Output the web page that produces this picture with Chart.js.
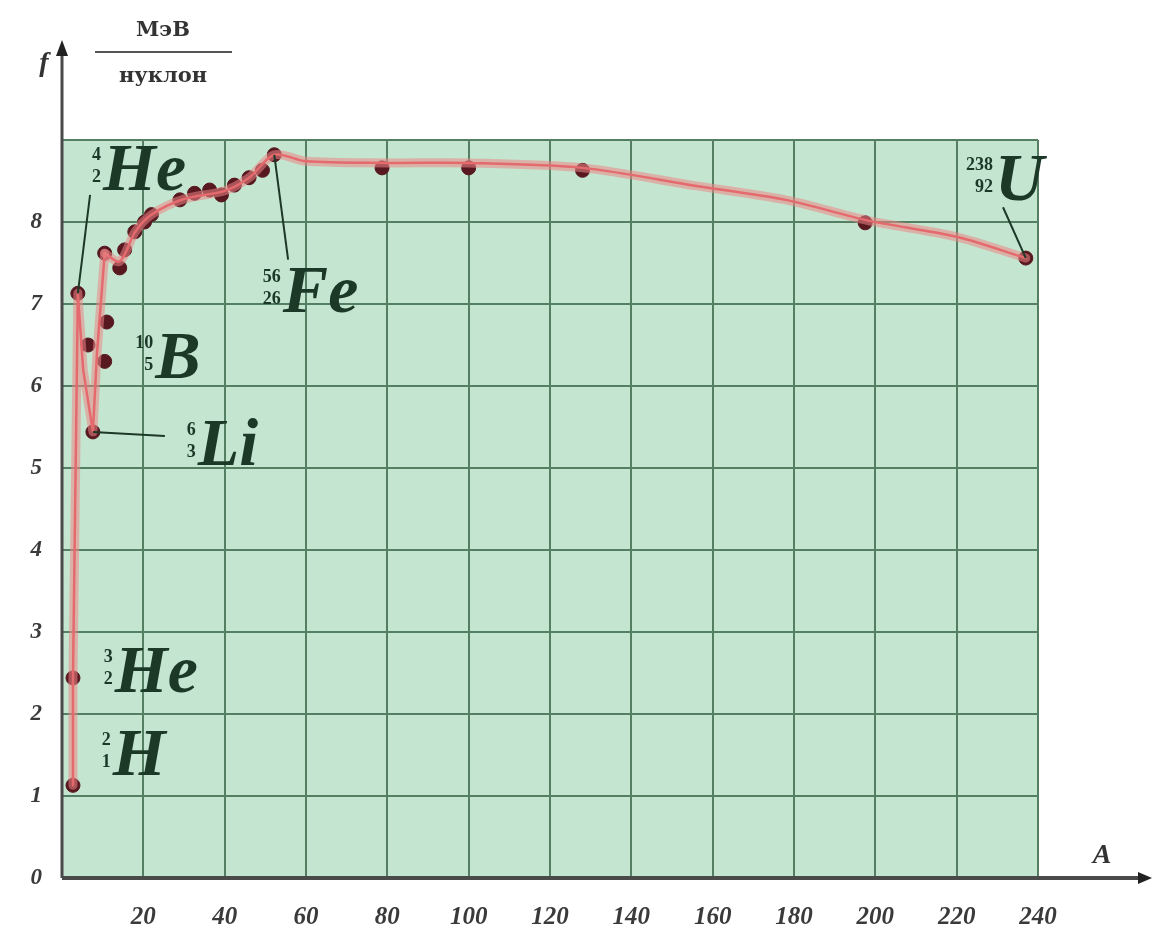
<!DOCTYPE html>
<html>
<head>
<meta charset="utf-8">
<script src="https://cdn.jsdelivr.net/npm/chart.js@4.4.1/dist/chart.umd.min.js"></script>
<style>
  html, body { margin: 0; padding: 0; background: #fff; }
  #chart { display: block; filter: blur(0.7px); }
</style>
</head>
<body>
<canvas id="chart" width="1152" height="936"></canvas>
<script>
// Mass number A and binding energy per nucleon f (MeV) of the marked nuclei
const pointA = [2.7, 2.7, 3.9, 7.6, 6.4, 10.5, 11, 10.5, 14.2, 15.4, 17.9, 20.3, 22, 29, 32.6, 36.3, 39.2, 42.4, 46, 49.3, 52.2, 78.7, 100, 128, 197.5, 237];
const pointF = [1.13, 2.44, 7.13, 5.44, 6.5, 6.3, 6.78, 7.62, 7.44, 7.66, 7.88, 8.0, 8.09, 8.27, 8.35, 8.39, 8.33, 8.45, 8.54, 8.63, 8.82, 8.66, 8.66, 8.63, 7.99, 7.56];

// The red curve: light nuclei part (straight segments) ...
const lightA = [2.7, 2.7, 3.9, 5.2, 7.6, 8.6, 10.5];
const lightF = [1.13, 2.44, 7.13, 6.2, 5.44, 6.4, 7.62];
// ... and the smooth part from A ~ 10 to uranium
const heavyA = [10.5, 14.2, 18, 22, 30, 40, 46, 52.2, 60, 80, 100, 128, 156, 178, 198, 220, 237];
const heavyF = [7.62, 7.52, 7.88, 8.09, 8.28, 8.38, 8.54, 8.82, 8.74, 8.72, 8.72, 8.66, 8.44, 8.27, 8.02, 7.82, 7.56];

const xTicks = [20, 40, 60, 80, 100, 120, 140, 160, 180, 200, 220, 240];
const yTicks = [0, 1, 2, 3, 4, 5, 6, 7, 8];

const toXY = (xs, ys) => xs.map((x, i) => ({ x: x, y: ys[i] }));

const GREEN_BG = '#c4e5cf';
const GRID = '#557f62';
const INK = '#1c3827';
const AXIS = '#4a4a4a';
const HALO = 'rgba(236, 135, 135, 0.55)';
const RED = '#d9474f';

const decorPlugin = {
    id: 'decor',
    beforeDraw(chart) {
        const { ctx, chartArea: a } = chart;
        ctx.save();
        ctx.fillStyle = '#ffffff';
        ctx.fillRect(0, 0, chart.width, chart.height);
        ctx.fillStyle = GREEN_BG;
        ctx.fillRect(a.left, a.top, a.right - a.left, a.bottom - a.top);
        ctx.restore();
    },
    afterDraw(chart) {
        const { ctx, chartArea: a } = chart;
        const xs = chart.scales.x, ys = chart.scales.y;
        const px = v => xs.getPixelForValue(v);
        const py = v => ys.getPixelForValue(v);
        ctx.save();

        // axes with arrows
        ctx.strokeStyle = AXIS;
        ctx.fillStyle = '#222';
        ctx.lineWidth = 4;
        ctx.beginPath();
        ctx.moveTo(a.left, a.bottom);
        ctx.lineTo(1142, a.bottom);
        ctx.stroke();
        ctx.beginPath();
        ctx.moveTo(1152, a.bottom);
        ctx.lineTo(1138, a.bottom - 6);
        ctx.lineTo(1138, a.bottom + 6);
        ctx.closePath();
        ctx.fill();

        ctx.lineWidth = 3;
        ctx.beginPath();
        ctx.moveTo(a.left, a.bottom);
        ctx.lineTo(a.left, 52);
        ctx.stroke();
        ctx.beginPath();
        ctx.moveTo(a.left, 40);
        ctx.lineTo(a.left - 6, 56);
        ctx.lineTo(a.left + 6, 56);
        ctx.closePath();
        ctx.fill();

        // axis titles
        ctx.fillStyle = '#333';
        ctx.textAlign = 'center';
        ctx.textBaseline = 'middle';
        ctx.font = 'italic bold 28px "Liberation Serif"';
        ctx.fillText('f', 44, 64);
        ctx.fillText('A', 1102, 856);
        ctx.font = 'bold 21px "DejaVu Serif"';
        ctx.fillText('МэВ', 163, 31);
        ctx.fillText('нуклон', 163, 77);
        ctx.lineWidth = 2;
        ctx.strokeStyle = '#555';
        ctx.beginPath();
        ctx.moveTo(95, 52);
        ctx.lineTo(232, 52);
        ctx.stroke();

        // leader lines from labels to points
        ctx.strokeStyle = INK;
        ctx.lineWidth = 2;
        const leaders = [
            [3.9, 7.13, 6.9, 8.33],
            [52.2, 8.82, 55.6, 7.54],
            [7.6, 5.44, 25.3, 5.39],
            [237, 7.56, 231.4, 8.18]
        ];
        leaders.forEach(([x1, y1, x2, y2]) => {
            ctx.beginPath();
            ctx.moveTo(px(x1), py(y1));
            ctx.lineTo(px(x2), py(y2));
            ctx.stroke();
        });

        // isotope labels: anchor (A, f) is the baseline-left of the symbol
        const labels = [
            ['He', '4', '2', 10.1, 8.39],
            ['Fe', '56', '26', 54.3, 6.90],
            ['B', '10', '5', 22.9, 6.10],
            ['Li', '6', '3', 33.4, 5.04],
            ['He', '3', '2', 13.0, 2.27],
            ['H', '2', '1', 12.5, 1.26],
            ['U', '238', '92', 229.4, 8.27]
        ];
        ctx.fillStyle = INK;
        labels.forEach(([sym, mass, charge, ax, af]) => {
            const x = px(ax), y = py(af);
            ctx.textBaseline = 'alphabetic';
            ctx.textAlign = 'left';
            ctx.font = 'italic bold 68px "Liberation Serif"';
            ctx.fillText(sym, x, y);
            ctx.textAlign = 'right';
            ctx.font = 'bold 18px "Liberation Serif"';
            ctx.fillText(mass, x - 2, y - 30);
            ctx.fillText(charge, x - 2, y - 8);
        });

        ctx.restore();
    }
};

const ctx = document.getElementById('chart').getContext('2d');

const curveSets = [toXY(lightA, lightF), toXY(heavyA, heavyF)];
const tensions = [0, 0.3];
const lineDatasets = [];
curveSets.forEach((pts, i) => {
    lineDatasets.push({ data: pts, showLine: true, borderColor: HALO, borderWidth: 9, borderJoinStyle: 'round', borderCapStyle: 'round', pointRadius: 0, tension: tensions[i] });
});
curveSets.forEach((pts, i) => {
    lineDatasets.push({ data: pts, showLine: true, borderColor: RED, borderWidth: 2.5, borderJoinStyle: 'round', borderCapStyle: 'round', pointRadius: 0, tension: tensions[i] });
});

new Chart(ctx, {
    type: 'scatter',
    data: {
        datasets: lineDatasets.concat([
            {
                data: toXY(pointA, pointF),
                showLine: false,
                backgroundColor: '#581820',
                borderColor: '#581820',
                pointRadius: 7
            }
        ])
    },
    options: {
        responsive: false,
        animation: false,
        layout: { padding: { top: 140, right: 114, left: 0, bottom: 0 } },
        plugins: {
            legend: { display: false },
            tooltip: { enabled: false }
        },
        scales: {
            x: {
                type: 'linear',
                min: 0,
                max: 240,
                afterFit: s => { s.height = 58; },
                afterBuildTicks: s => { s.ticks = [0].concat(xTicks).map(v => ({ value: v })); },
                ticks: {
                    callback: v => (xTicks.includes(v) ? String(v) : ''),
                    color: '#3a3a3a',
                    padding: 25,
                    maxRotation: 0,
                    autoSkip: false,
                    font: { family: 'Liberation Serif', size: 25, style: 'italic', weight: 'bold' }
                },
                grid: { color: GRID, lineWidth: 2, drawTicks: false },
                border: { display: false }
            },
            y: {
                min: 0,
                max: 9,
                afterFit: s => { s.width = 62; },
                afterBuildTicks: s => { s.ticks = yTicks.concat([9]).map(v => ({ value: v })); },
                ticks: {
                    callback: v => (yTicks.includes(v) ? String(v) : ''),
                    color: '#3a3a3a',
                    padding: 20,
                    autoSkip: false,
                    font: { family: 'Liberation Serif', size: 23, style: 'italic', weight: 'bold' }
                },
                grid: { color: GRID, lineWidth: 2, drawTicks: false },
                border: { display: false }
            }
        }
    },
    plugins: [decorPlugin]
});
</script>
</body>
</html>
